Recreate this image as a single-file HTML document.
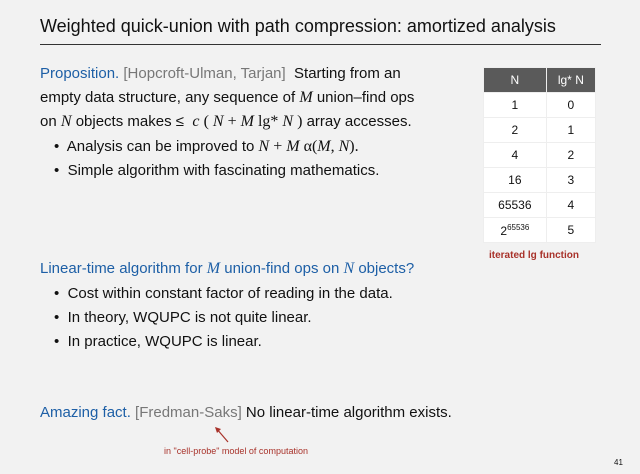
<!DOCTYPE html>
<html><head><meta charset="utf-8"><style>
body{margin:0;width:640px;height:474px;background:#f2f2f2;position:relative;overflow:hidden;font-family:"Liberation Sans",sans-serif;color:#111}
.a{position:absolute;white-space:nowrap}
.t{font-size:15px}
.blue{color:#1d5fa6}
.gray{color:#777}
i.m{font-family:"Liberation Serif",serif;font-size:16px}
table{position:absolute;left:483px;top:67px;border-collapse:collapse;font-size:12px;width:113px}
td,th{height:24px;text-align:center;border:1px solid #eee;background:#fff;padding:0}
th{background:#5a5a5a;color:#fff;font-weight:normal}
</style></head><body>
<div class="a" style="left:40px;top:16px;font-size:18px">Weighted quick-union with path compression: amortized analysis</div>
<div class="a" style="left:40px;top:44px;width:561px;height:1px;background:#333"></div>

<div class="a t" style="left:40px;top:65px"><span class="blue">Proposition.</span> <span class="gray">[Hopcroft-Ulman, Tarjan]</span> &nbsp;Starting from an</div>
<div class="a t" style="left:40px;top:89px">empty data structure, any sequence of <i class="m">M</i> union–find ops</div>
<div class="a t" style="left:40px;top:113px">on <i class="m">N</i> objects makes ≤ &nbsp;<i class="m">c</i> <span style="font-family:'Liberation Serif',serif;font-size:16px">( <i>N</i> + <i>M</i> lg* <i>N</i> )</span> array accesses.</div>
<div class="a t" style="left:54px;top:138px">•&nbsp; Analysis can be improved to <span style="font-family:'Liberation Serif',serif;font-size:16px"><i>N</i> + <i>M</i> α(<i>M</i>, <i>N</i>).</span></div>
<div class="a t" style="left:54px;top:162px">•&nbsp; Simple algorithm with fascinating mathematics.</div>

<table>
<tr><th>N</th><th>lg* N</th></tr>
<tr><td>1</td><td>0</td></tr>
<tr><td>2</td><td>1</td></tr>
<tr><td>4</td><td>2</td></tr>
<tr><td>16</td><td>3</td></tr>
<tr><td>65536</td><td>4</td></tr>
<tr><td>2<sup style="font-size:8px">65536</sup></td><td>5</td></tr>
</table>
<div class="a" style="left:489px;top:250px;font-size:10px;font-weight:bold;color:#a8322a">iterated lg function</div>

<div class="a t blue" style="left:40px;top:260px">Linear-time algorithm for <i class="m">M</i> union-find ops on <i class="m">N</i> objects?</div>
<div class="a t" style="left:54px;top:285px">•&nbsp; Cost within constant factor of reading in the data.</div>
<div class="a t" style="left:54px;top:309px">•&nbsp; In theory, WQUPC is not quite linear.</div>
<div class="a t" style="left:54px;top:333px">•&nbsp; In practice, WQUPC is linear.</div>

<div class="a t" style="left:40px;top:404px"><span class="blue">Amazing fact.</span> <span class="gray">[Fredman-Saks]</span> No linear-time algorithm exists.</div>
<svg class="a" style="left:210px;top:422px" width="30" height="26"><line x1="18" y1="20" x2="6" y2="6" stroke="#a8322a" stroke-width="1.2"/><path d="M5,5 L11,7 L7,11 Z" fill="#a8322a"/></svg>
<div class="a" style="left:164px;top:446px;font-size:9px;color:#a8322a">in "cell-probe" model of computation</div>
<div class="a" style="left:614px;top:458px;font-size:8px">41</div>
</body></html>
